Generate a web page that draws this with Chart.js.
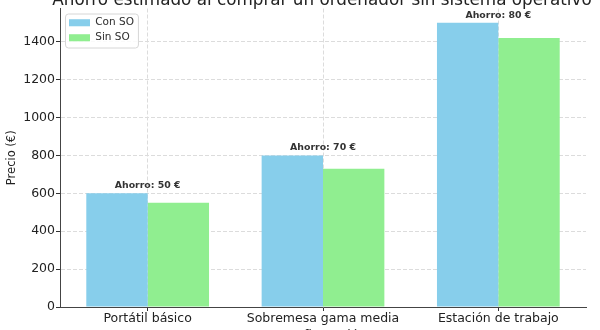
<!DOCTYPE html>
<html>
<head>
<meta charset="utf-8">
<title>Ahorro estimado al comprar un ordenador sin sistema operativo</title>
<script src="https://cdn.jsdelivr.net/npm/chart.js@4.4.0/dist/chart.umd.min.js"></script>
<style>
  body { margin: 0; background: #fff; }
  #wrap { width: 600px; height: 330px; }
</style>
</head>
<body>
<div id="wrap"><canvas id="precios" width="600" height="330"></canvas></div>
<script>
// valores
var categorias = ['Portátil básico', 'Sobremesa gama media', 'Estación de trabajo'];
var conSO = [600, 800, 1500];
var sinSO = [550, 730, 1420];
var yTicks = [0, 200, 400, 600, 800, 1000, 1200, 1400];
var yMax = 1575;

var titulo = 'Ahorro estimado al comprar un ordenador sin sistema operativo';
var tituloX = 'Configuración';
var FUENTE = 'DejaVu Sans';

// titulo, etiqueta del eje x (cortados por el borde) y anotaciones de ahorro
var textosPlugin = {
    id: 'textos',
    afterDatasetsDraw: function(chart) {
        var ctx = chart.ctx;
        var xs = chart.scales.x, ys = chart.scales.y;
        ctx.save();
        ctx.font = 'bold 9.4px "' + FUENTE + '"';
        ctx.fillStyle = '#333';
        ctx.textAlign = 'center';
        ctx.textBaseline = 'alphabetic';
        for (var i = 0; i < categorias.length; i++) {
            var ahorro = conSO[i] - sinSO[i];
            var x = xs.getPixelForTick(i);
            var y = ys.getPixelForValue(Math.max(conSO[i], sinSO[i])) - 5;
            ctx.fillText('Ahorro: ' + ahorro + ' €', x, y);
        }
        ctx.restore();
    },
    afterDraw: function(chart) {
        var ctx = chart.ctx;
        var area = chart.chartArea;
        var cx = (area.left + area.right) / 2;
        ctx.save();
        ctx.fillStyle = '#222';
        ctx.textAlign = 'center';
        ctx.textBaseline = 'alphabetic';
        ctx.font = '16.8px "' + FUENTE + '"';
        ctx.fillText(titulo, cx - 1, 5);
        ctx.font = '12.5px "' + FUENTE + '"';
        ctx.fillText(tituloX, cx, 339);
        ctx.restore();
    }
};

// leyenda dentro del area, con marco blanco como en matplotlib
var marcoLeyenda = {
    id: 'marcoLeyenda',
    afterLayout: function(chart) {
        var lg = chart.legend;
        lg.left += 4.5; lg.right += 4.5;
        lg.top += 13; lg.bottom += 13;
    },
    afterDraw: function(chart) {
        var lg = chart.legend;
        var ctx = chart.ctx;
        var pad = lg.options.labels.padding;
        var fs = lg.options.labels.font.size;
        ctx.save();
        ctx.font = fs + 'px "' + FUENTE + '"';
        var w = 0;
        lg.legendItems.forEach(function(it) { w = Math.max(w, ctx.measureText(it.text).width); });
        var x0 = lg.left + pad - 4;
        var y0 = lg.top + pad - 4;
        var ancho = lg.options.labels.boxWidth + fs / 2 + w + 8;
        var alto = lg.legendItems.length * (fs + pad) + 4;
        ctx.beginPath();
        ctx.roundRect(x0 + 0.5, y0 + 0.5, ancho, alto, 3);
        ctx.fillStyle = 'rgba(255,255,255,0.85)';
        ctx.fill();
        ctx.strokeStyle = '#d6d6d6';
        ctx.lineWidth = 1;
        ctx.stroke();
        ctx.restore();
        lg.draw();
    }
};

var ctx = document.getElementById('precios').getContext('2d');
var grafico = new Chart(ctx, {
    type: 'bar',
    data: {
        labels: categorias,
        datasets: [{
            label: 'Con SO',
            data: conSO,
            backgroundColor: '#87CEEB',
            borderColor: '#87CEEB',
            borderWidth: 0
        }, {
            label: 'Sin SO',
            data: sinSO,
            backgroundColor: '#90EE90',
            borderColor: '#90EE90',
            borderWidth: 0
        }]
    },
    options: {
        responsive: false,
        animation: false,
        categoryPercentage: 0.7,
        barPercentage: 1.0,
        layout: { padding: { top: 7, right: 14, left: 0, bottom: 0 } },
        plugins: {
            legend: {
                position: 'chartArea',
                align: 'start',
                labels: {
                    boxWidth: 21,
                    boxHeight: 7,
                    padding: 4.5,
                    color: '#333',
                    font: { family: FUENTE, size: 10.5 }
                }
            },
            tooltip: { enabled: false }
        },
        scales: {
            x: {
                grid: {
                    offset: false,
                    color: '#dcdcdc',
                    tickColor: '#333',
                    tickLength: 4,
                    tickBorderDash: []
                },
                border: { color: '#444', width: 1, dash: [4, 2] },
                ticks: {
                    color: '#222',
                    padding: 0,
                    font: { family: FUENTE, size: 12.5 }
                },
                afterFit: function(scale) { scale.height = 23; }
            },
            y: {
                min: 0,
                max: yMax,
                grid: {
                    color: '#dcdcdc',
                    tickColor: '#333',
                    tickLength: 4,
                    tickBorderDash: []
                },
                border: { color: '#444', width: 1, dash: [4, 2] },
                ticks: {
                    color: '#222',
                    padding: 1,
                    font: { family: FUENTE, size: 12.5 },
                    callback: function(v) { return String(v); }
                },
                title: {
                    display: true,
                    text: 'Precio (€)',
                    color: '#222',
                    padding: { top: 5, bottom: 0 },
                    font: { family: FUENTE, size: 11.5 }
                },
                afterBuildTicks: function(scale) {
                    scale.ticks = yTicks.map(function(v) { return { value: v }; });
                },
                afterFit: function(scale) { scale.width = 60; }
            }
        }
    },
    plugins: [textosPlugin, marcoLeyenda]
});
</script>
</body>
</html>
